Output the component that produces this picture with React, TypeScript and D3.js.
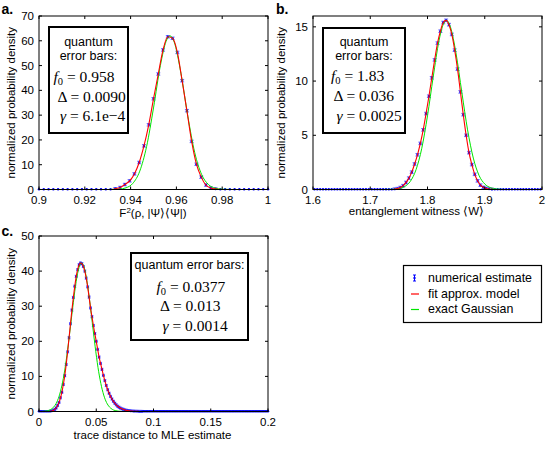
import React from "react";
import * as d3 from "d3";

// ---------------- Panel a data ----------------
const aBinStart = 0.9;
const aBinStep = 1 / 480;
const aBinCount = 49;
const aFirstNonzero = 16;
const aValues = [0.3, 0.8, 2.0, 3.5, 6.3, 10.9, 17.6, 26.1, 36.6, 46.6, 56.3, 61.6, 61.0, 55.3, 43.9, 31.8, 19.4, 10.2, 5.0, 1.8, 0.6, 0.2];
const aGaussX = [0.93, 0.935, 0.938, 0.941, 0.944, 0.947, 0.95, 0.953, 0.9555, 0.9572, 0.959, 0.962, 0.965, 0.968, 0.971, 0.974, 0.977, 0.98, 0.984, 0.987];
const aGaussY = [0, 0.15, 0.69, 2.5, 7.4, 17.4, 32.9, 50, 59.8, 62, 59.6, 46.8, 29.5, 14.9, 6.1, 2.0, 0.52, 0.11, 0.01, 0];
const aRedRange = [0.918, 0.98];
const aXTicks = [0.9, 0.92, 0.94, 0.96, 0.98, 1];
const aXTickLabels = ["0.9", "0.92", "0.94", "0.96", "0.98", "1"];
const aYTicks = [0, 10, 20, 30, 40, 50, 60, 70];
const aYTickLabels = ["0", "10", "20", "30", "40", "50", "60", "70"];

// ---------------- Panel b data ----------------
const bBinStart = 1.6025;
const bBinStep = 0.005;
const bBinCount = 80;
const bFirstNonzero = 28;
const bValues = [0.03, 0.08, 0.18, 0.35, 0.65, 1.05, 1.6, 2.35, 3.2, 4.25, 5.5, 7.0, 8.6, 10.3, 11.95, 13.5, 14.6, 15.4, 15.6, 15.2, 14.3, 12.85, 11.1, 9.0, 6.9, 5.0, 3.4, 2.3, 1.4, 0.8, 0.4, 0.2, 0.1, 0.04, 0.01];
const bGaussX = [1.72, 1.74, 1.75, 1.76, 1.77, 1.78, 1.79, 1.8, 1.81, 1.82, 1.826, 1.833, 1.84, 1.85, 1.86, 1.87, 1.88, 1.89, 1.9, 1.91, 1.92, 1.935];
const bGaussY = [0, 0.02, 0.08, 0.27, 0.75, 1.83, 3.8, 6.8, 10.4, 13.7, 15.0, 15.6, 15.0, 12.5, 8.95, 5.5, 2.9, 1.3, 0.51, 0.17, 0.05, 0];
const bRedRange = [1.68, 1.928];
const bXTicks = [1.6, 1.7, 1.8, 1.9, 2];
const bXTickLabels = ["1.6", "1.7", "1.8", "1.9", "2"];
const bYTicks = [0, 5, 10, 15];
const bYTickLabels = ["0", "5", "10", "15"];

// ---------------- Panel c data ----------------
const cBinStart = 0;
const cBinStep = 0.00125;
const cBinCount = 161;
const cFirstNonzero = 8;
const cValues = [0.05, 0.15, 0.3, 0.6, 1.0, 1.7, 2.6, 3.9, 5.5, 7.7, 10.2, 13.4, 17, 21, 25, 28.9, 32.5, 35.7, 38.5, 40.4, 41.8, 42.3, 42.1, 41.3, 40, 38, 35.5, 32.6, 29.5, 27, 24.5, 22.2, 20, 17.7, 15.5, 13.7, 12, 10.3, 8.8, 7.4, 6.2, 5.2, 4.3, 3.55, 2.9, 2.35, 1.9, 1.5, 1.2, 0.95, 0.75, 0.6, 0.45, 0.35, 0.27, 0.2, 0.15, 0.11, 0.08, 0.06, 0.04, 0.03, 0.02, 0.01, 0.01];
const cGaussX = [0.003, 0.005, 0.0075, 0.01, 0.0125, 0.015, 0.0175, 0.02, 0.0225, 0.025, 0.0275, 0.03, 0.0325, 0.035, 0.0372, 0.039, 0.0415, 0.044, 0.0465, 0.049, 0.0515, 0.054, 0.0565, 0.059, 0.0615, 0.064, 0.0665, 0.069, 0.072, 0.076];
const cGaussY = [0.04, 0.09, 0.23, 0.53, 1.15, 2.3, 4.3, 7.4, 11.8, 17.6, 24.3, 31.1, 37.1, 41.1, 42.3, 41.5, 37.9, 32.2, 25.4, 18.6, 12.6, 8.0, 4.7, 2.55, 1.3, 0.61, 0.27, 0.11, 0.03, 0.005];
const cRedRange = [0.0075, 0.1];
const cXTicks = [0, 0.05, 0.1, 0.15, 0.2];
const cXTickLabels = ["0", "0.05", "0.1", "0.15", "0.2"];
const cYTicks = [0, 10, 20, 30, 40, 50];
const cYTickLabels = ["0", "10", "20", "30", "40", "50"];

const legendLabels = ["numerical estimate", "fit approx. model", "exact Gaussian"];

const BLUE = "#0000ff";
const RED = "#ff0000";
const GREEN = "#00e600";
const SANS = "'Liberation Sans', Arial, Helvetica, sans-serif";
const SERIF = "'Liberation Serif', 'Times New Roman', serif";

type Pt = { x: number; y: number };

function buildBins(start: number, step: number, count: number, first: number, vals: number[]): Pt[] {
  const xs = d3.range(count).map((k) => start + k * step);
  return xs.map((x, k) => ({ x, y: k >= first && k < first + vals.length ? vals[k - first] : 0 }));
}

const aPts = buildBins(aBinStart, aBinStep, aBinCount, aFirstNonzero, aValues);
const bPts = buildBins(bBinStart, bBinStep, bBinCount, bFirstNonzero, bValues);
const cPts = buildBins(cBinStart, cBinStep, cBinCount, cFirstNonzero, cValues);

const zip = (xs: number[], ys: number[]): Pt[] => xs.map((x, i) => ({ x, y: ys[i] }));

type PanelProps = {
  left: number; right: number; top: number; bottom: number;
  xDomain: [number, number]; yDomain: [number, number];
  xTicks: number[]; xTickLabels: string[]; yTicks: number[]; yTickLabels: string[];
  pts: Pt[]; err: number; capW: number;
  green: Pt[]; redRange: number[];
  yLabelX: number;
};

function Panel(p: PanelProps) {
  const x = d3.scaleLinear().domain(p.xDomain).range([p.left, p.right]);
  const y = d3.scaleLinear().domain(p.yDomain).range([p.bottom, p.top]);
  const line = d3.line<Pt>().x((d) => x(d.x)).y((d) => y(d.y)).curve(d3.curveMonotoneX);
  const redPts = p.pts.filter((d) => d.x >= p.redRange[0] && d.x <= p.redRange[1]);
  const tl = 3;
  return (
    <g>
      <g>
        {p.pts.map((d, i) => {
          const cx = x(d.x);
          const cy = y(d.y);
          if (d.y <= 0) return <circle key={i} cx={cx} cy={cy - 0.3} r={1.25} fill={BLUE} />;
          const y1 = y(d.y + p.err);
          const y2 = y(Math.max(0, d.y - p.err));
          return (
            <g key={i} stroke={BLUE} strokeWidth={0.9}>
              <line x1={cx} x2={cx} y1={y1} y2={y2} />
              <line x1={cx - p.capW / 2} x2={cx + p.capW / 2} y1={y1} y2={y1} stroke="#5a5aff" />
              <line x1={cx - p.capW / 2} x2={cx + p.capW / 2} y1={y2} y2={y2} stroke="#5a5aff" />
              <circle cx={cx} cy={cy} r={1.2} fill={BLUE} stroke="none" />
            </g>
          );
        })}
      </g>
      <path d={line(p.green) || ""} fill="none" stroke={GREEN} strokeWidth={1} />
      <path d={line(redPts) || ""} fill="none" stroke={RED} strokeWidth={1.1} />
      <rect x={p.left} y={p.top} width={p.right - p.left} height={p.bottom - p.top} fill="none" stroke="#000" strokeWidth={1} />
      {p.xTicks.map((t, i) => (
        <g key={"xt" + i}>
          <line x1={x(t)} x2={x(t)} y1={p.bottom} y2={p.bottom - tl} stroke="#000" />
          <line x1={x(t)} x2={x(t)} y1={p.top} y2={p.top + tl} stroke="#000" />
          <text x={x(t)} y={p.bottom + 14.5} textAnchor="middle" fontFamily={SANS} fontSize={11.5} fill="#000">
            {p.xTickLabels[i]}
          </text>
        </g>
      ))}
      {p.yTicks.map((t, i) => (
        <g key={"yt" + i}>
          <line x1={p.left} x2={p.left + tl} y1={y(t)} y2={y(t)} stroke="#000" />
          <line x1={p.right} x2={p.right - tl} y1={y(t)} y2={y(t)} stroke="#000" />
          <text x={p.left - 5} y={y(t) + 4} textAnchor="end" fontFamily={SANS} fontSize={11.5} fill="#000">
            {p.yTickLabels[i]}
          </text>
        </g>
      ))}
      <text
        transform={`translate(${p.yLabelX},${(p.top + p.bottom) / 2}) rotate(-90)`}
        textAnchor="middle" fontFamily={SANS} fontSize={11.5} fill="#000"
      >
        normalized probability density
      </text>
    </g>
  );
}

function MathLine({ x, y, sym, italic, sub, val }: { x: number; y: number; sym: string; italic: boolean; sub?: string; val: string }) {
  return (
    <text x={x} y={y} fontFamily={SERIF} fontSize={15.5} fill="#000">
      <tspan fontStyle={italic ? "italic" : "normal"}>{sym}</tspan>
      {sub ? <tspan fontSize={10.5} dy={3}>{sub}</tspan> : null}
      <tspan dy={sub ? -3 : 0}>{" = " + val}</tspan>
    </text>
  );
}

export default function App() {
  return (
    <svg width={551} height={473} style={{ position: "absolute", left: 0, top: 0, background: "#fff" }}>
      <rect x={0} y={0} width={551} height={473} fill="#fff" />
      {/* Panel a */}
      <Panel left={39} right={268} top={16} bottom={189.5} xDomain={[0.9, 1]} yDomain={[0, 70]}
        xTicks={aXTicks} xTickLabels={aXTickLabels} yTicks={aYTicks} yTickLabels={aYTickLabels}
        pts={aPts} err={0.5} capW={4} green={zip(aGaussX, aGaussY)} redRange={aRedRange} yLabelX={15} />
      <text x={153} y={217} textAnchor="middle" fontFamily={SANS} fontSize={11.5}>
        F<tspan fontSize={8} dy={-4.5}>2</tspan><tspan dy={4.5}>(ρ, |Ψ⟩⟨Ψ|)</tspan>
      </text>
      <text x={1.5} y={14} fontFamily={SANS} fontWeight="bold" fontSize={14}>a.</text>
      <rect x={49} y={27} width={79} height={106} fill="#fff" stroke="#000" strokeWidth={2} />
      <text x={88.5} y={46} textAnchor="middle" fontFamily={SANS} fontSize={12.5}>quantum</text>
      <text x={88.5} y={60} textAnchor="middle" fontFamily={SANS} fontSize={12.5}>error bars:</text>
      <MathLine x={53.5} y={81.5} sym="f" italic sub="0" val="0.958" />
      <MathLine x={57.5} y={101.5} sym="Δ" italic={false} val="0.0090" />
      <MathLine x={60} y={120.5} sym="γ" italic val="6.1e−4" />

      {/* Panel b */}
      <Panel left={313} right={542} top={16} bottom={189.5} xDomain={[1.6, 2]} yDomain={[0, 16]}
        xTicks={bXTicks} xTickLabels={bXTickLabels} yTicks={bYTicks} yTickLabels={bYTickLabels}
        pts={bPts} err={0.12} capW={4} green={zip(bGaussX, bGaussY)} redRange={bRedRange} yLabelX={285} />
      <text x={416.5} y={215} textAnchor="middle" fontFamily={SANS} fontSize={11.5}>entanglement witness ⟨W⟩</text>
      <text x={276} y={14} fontFamily={SANS} fontWeight="bold" fontSize={14}>b.</text>
      <rect x={323} y={28} width={82} height={105} fill="#fff" stroke="#000" strokeWidth={2} />
      <text x={364} y={46} textAnchor="middle" fontFamily={SANS} fontSize={12.5}>quantum</text>
      <text x={364} y={60} textAnchor="middle" fontFamily={SANS} fontSize={12.5}>error bars:</text>
      <MathLine x={331} y={81} sym="f" italic sub="0" val="1.83" />
      <MathLine x={333.5} y={101} sym="Δ" italic={false} val="0.036" />
      <MathLine x={336.5} y={121} sym="γ" italic val="0.0025" />

      {/* Panel c */}
      <Panel left={39} right={268} top={236} bottom={411.5} xDomain={[0, 0.2]} yDomain={[0, 50]}
        xTicks={cXTicks} xTickLabels={cXTickLabels} yTicks={cYTicks} yTickLabels={cYTickLabels}
        pts={cPts} err={0.3} capW={3} green={zip(cGaussX, cGaussY)} redRange={cRedRange} yLabelX={15} />
      <text x={152.5} y={439} textAnchor="middle" fontFamily={SANS} fontSize={11.5}>trace distance to MLE estimate</text>
      <text x={1.5} y={236} fontFamily={SANS} fontWeight="bold" fontSize={14}>c.</text>
      <rect x={131} y={253} width={117} height={87} fill="#fff" stroke="#000" strokeWidth={2} />
      <text x={189.5} y={268.5} textAnchor="middle" fontFamily={SANS} fontSize={12.5}>quantum error bars:</text>
      <MathLine x={156.5} y={291.5} sym="f" italic sub="0" val="0.0377" />
      <MathLine x={160} y={311} sym="Δ" italic={false} val="0.013" />
      <MathLine x={162.5} y={330.5} sym="γ" italic val="0.0014" />

      {/* Legend */}
      <rect x={403.5} y={265.5} width={138} height={57} fill="#fff" stroke="#000" strokeWidth={1.2} />
      <g stroke={BLUE} strokeWidth={1}>
        <line x1={414.5} x2={414.5} y1={275} y2={281} />
        <line x1={413} x2={416} y1={275} y2={275} />
        <line x1={413} x2={416} y1={281} y2={281} />
      </g>
      <circle cx={414.5} cy={278} r={1.2} fill={BLUE} />
      <line x1={411} x2={419} y1={294} y2={294} stroke={RED} strokeWidth={1.2} />
      <line x1={411} x2={419} y1={309.5} y2={309.5} stroke={GREEN} strokeWidth={1.2} />
      {legendLabels.map((l, i) => (
        <text key={l} x={428} y={282 + i * 15.5} fontFamily={SANS} fontSize={12.4}>{l}</text>
      ))}
    </svg>
  );
}
